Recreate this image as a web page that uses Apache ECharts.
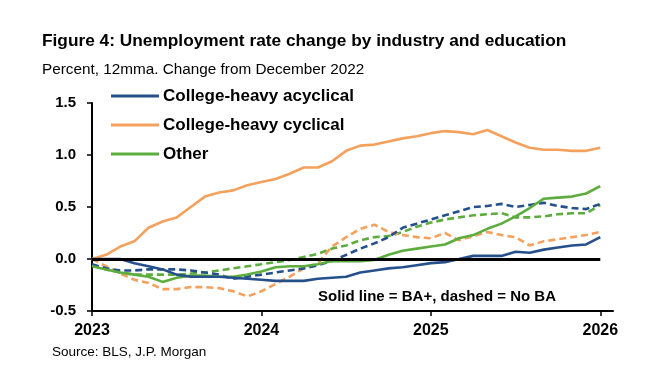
<!DOCTYPE html>
<html>
<head>
<meta charset="utf-8">
<script src="https://cdn.jsdelivr.net/npm/echarts@6/dist/echarts.min.js"></script>
<style>html,body{margin:0;padding:0;background:#fff;}#c{width:649px;height:372px;}</style>
</head>
<body>
<div id="c"></div>
<script>
// Months Jan 2023 .. Jan 2026 (index on x axis)
var months = ['2023-01','2023-02','2023-03','2023-04','2023-05','2023-06','2023-07','2023-08','2023-09','2023-10','2023-11','2023-12',
              '2024-01','2024-02','2024-03','2024-04','2024-05','2024-06','2024-07','2024-08','2024-09','2024-10','2024-11','2024-12',
              '2025-01','2025-02','2025-03','2025-04','2025-05','2025-06','2025-07','2025-08','2025-09','2025-10','2025-11','2025-12',
              '2026-01'];
var yearTicks = [0, 12, 24, 36];
var yearLabels = ['2023', '2024', '2025', '2026'];

var acyclicalBA = [0.00,0.00,0.00,-0.04,-0.07,-0.10,-0.15,-0.17,-0.17,-0.17,-0.18,-0.19,
                   -0.20,-0.21,-0.21,-0.21,-0.19,-0.18,-0.17,-0.13,-0.11,-0.09,-0.08,-0.06,
                   -0.04,-0.03,0.00,0.03,0.03,0.03,0.07,0.06,0.09,0.11,0.13,0.14,0.21];
var acyclicalNoBA = [-0.05,-0.09,-0.11,-0.11,-0.10,-0.10,-0.10,-0.11,-0.13,-0.15,-0.19,-0.17,
                     -0.15,-0.13,-0.11,-0.09,-0.06,-0.02,0.04,0.10,0.15,0.21,0.30,0.34,
                     0.38,0.42,0.46,0.50,0.51,0.53,0.50,0.52,0.54,0.51,0.49,0.48,0.53];
var cyclicalBA = [0.00,0.04,0.12,0.17,0.30,0.36,0.40,0.50,0.60,0.64,0.66,0.71,
                  0.74,0.77,0.82,0.88,0.88,0.94,1.04,1.09,1.10,1.13,1.16,1.18,
                  1.21,1.23,1.22,1.20,1.24,1.18,1.12,1.07,1.05,1.05,1.04,1.04,1.07];
var cyclicalNoBA = [0.00,-0.07,-0.14,-0.20,-0.23,-0.29,-0.29,-0.27,-0.27,-0.28,-0.31,-0.36,
                    -0.31,-0.24,-0.17,-0.09,-0.04,0.12,0.21,0.29,0.33,0.26,0.23,0.21,
                    0.20,0.25,0.18,0.22,0.26,0.23,0.21,0.13,0.17,0.19,0.21,0.23,0.26];
var otherBA = [-0.07,-0.10,-0.13,-0.15,-0.17,-0.22,-0.18,-0.16,-0.16,-0.17,-0.17,-0.15,
               -0.12,-0.08,-0.07,-0.07,-0.05,-0.02,-0.02,-0.02,-0.01,0.04,0.08,0.10,
               0.12,0.14,0.20,0.23,0.29,0.34,0.41,0.49,0.58,0.59,0.60,0.63,0.70];
var otherNoBA = [-0.06,-0.10,-0.13,-0.15,-0.15,-0.15,-0.15,-0.14,-0.13,-0.11,-0.09,-0.07,
                 -0.05,-0.03,-0.01,0.02,0.05,0.10,0.13,0.18,0.21,0.22,0.26,0.31,
                 0.35,0.38,0.40,0.42,0.43,0.44,0.40,0.40,0.41,0.43,0.44,0.44,0.52];

var NAVY = '#25508c', ORANGE = '#f5a15e', GREEN = '#5cad3e';
var FONT = "'Liberation Sans', Arial, sans-serif";

function pairs(arr) { return arr.map(function (v, i) { return [i, v]; }); }

function line(name, data, color, dashed) {
  return {
    name: name, type: 'line', data: pairs(data), symbol: 'none', smooth: false,
    lineStyle: { color: color, width: 2.6, type: dashed ? [7, 4] : 'solid' },
    itemStyle: { color: color }, z: dashed ? 2 : 3
  };
}

var chart = echarts.init(document.getElementById('c'), null, { renderer: 'canvas' });
var series = [
  line('Other (No BA)', otherNoBA, GREEN, true),
  line('College-heavy cyclical (No BA)', cyclicalNoBA, ORANGE, true),
  line('College-heavy acyclical (No BA)', acyclicalNoBA, NAVY, true),
  line('Other', otherBA, GREEN, false),
  line('College-heavy cyclical', cyclicalBA, ORANGE, false),
  line('College-heavy acyclical', acyclicalBA, NAVY, false)
];
series[5].markLine = {
  silent: true, symbol: 'none', label: { show: false },
  lineStyle: { color: '#000', width: 3, type: 'solid' },
  data: [[{ coord: [0, 0] }, { coord: [months.length - 1, 0] }]],
  z: 5
};

chart.setOption({
  animation: false,
  backgroundColor: '#fff',
  textStyle: { fontFamily: FONT },
  title: [
    { text: 'Figure 4: Unemployment rate change by industry and education', left: 42, top: 33, padding: 0,
      textStyle: { fontFamily: FONT, fontSize: 17.3, fontWeight: 'bold', color: '#000' } },
    { text: 'Percent, 12mma. Change from December 2022', left: 42, top: 62, padding: 0,
      textStyle: { fontFamily: FONT, fontSize: 15.3, fontWeight: 'normal', color: '#000' } },
    { text: 'Source: BLS, J.P. Morgan', left: 52, top: 345, padding: 0,
      textStyle: { fontFamily: FONT, fontSize: 13.5, fontWeight: 'normal', color: '#000' } },
    { text: 'Solid line = BA+, dashed = No BA', left: 318, top: 289, padding: 0,
      textStyle: { fontFamily: FONT, fontSize: 15, fontWeight: 'bold', color: '#000' } }
  ],
  legend: {
    data: ['College-heavy acyclical', 'College-heavy cyclical', 'Other'],
    orient: 'vertical', left: 111, top: 87, padding: 0,
    icon: 'rect', itemWidth: 48, itemHeight: 3, itemGap: 11,
    textStyle: { fontFamily: FONT, fontSize: 17, lineHeight: 18, fontWeight: 'bold', color: '#000', padding: [0, 0, 0, -1] }
  },
  grid: { left: 92, right: 36, top: 103, bottom: 61, containLabel: false },
  xAxis: {
    type: 'value', min: 0, max: 36.9,
    axisLine: { show: true, onZero: false, lineStyle: { color: '#000', width: 2 } },
    axisTick: { show: true, customValues: yearTicks, length: 5, lineStyle: { color: '#000', width: 1.5 } },
    axisLabel: {
      customValues: yearTicks, margin: 12,
      formatter: function (v) { var k = yearTicks.indexOf(v); return k >= 0 ? yearLabels[k] : ''; },
      fontFamily: FONT, fontSize: 16, fontWeight: 'bold', color: '#000'
    },
    splitLine: { show: false }
  },
  yAxis: {
    type: 'value', min: -0.5, max: 1.5, interval: 0.5,
    axisLine: { show: true, onZero: false, lineStyle: { color: '#000', width: 2 } },
    axisTick: { show: true, length: 5, lineStyle: { color: '#000', width: 1.5 } },
    axisLabel: {
      margin: 16, formatter: function (v) { return v.toFixed(1); },
      fontFamily: FONT, fontSize: 15, fontWeight: 'bold', color: '#000'
    },
    splitLine: { show: false }
  },
  series: series
});
</script>
</body>
</html>
